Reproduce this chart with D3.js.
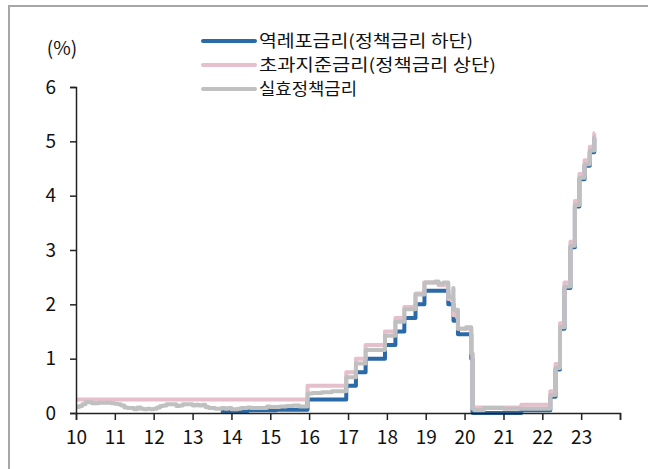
<!DOCTYPE html>
<html><head><meta charset="utf-8">
<script src="https://cdn.jsdelivr.net/npm/d3@7"></script>
<style>
html,body{margin:0;padding:0;background:#fff;}
svg{display:block;font-family:"Noto Sans CJK KR","Noto Sans",sans-serif;}
</style></head>
<body><svg id="c" width="648" height="469"></svg>
<script>
// ---- data ----
const seriesNames = ["역레포금리(정책금리 하단)", "초과지준금리(정책금리 상단)", "실효정책금리"];
const yTicks = [0, 1, 2, 3, 4, 5, 6];
const xTickYears = [2010,2011,2012,2013,2014,2015,2016,2017,2018,2019,2020,2021,2022,2023];
const xTickLabels = ["10","11","12","13","14","15","16","17","18","19","20","21","22","23"];

// 역레포금리 (lower bound)
const rrpDates = ["2013-09-23","2014-01-30","2014-06-01","2015-03-01","2015-12-17","2016-12-15","2017-03-16","2017-06-15","2017-12-14","2018-03-22","2018-06-14","2018-09-27","2018-12-20","2019-08-01","2019-09-19","2019-10-31","2020-03-04","2020-03-16","2021-06-17","2022-03-17","2022-05-05","2022-06-16","2022-07-28","2022-09-22","2022-11-03","2022-12-15","2023-02-02","2023-03-23","2023-05-04","2023-05-10"];
const rrpValues = [0.02,0.03,0.05,0.06,0.25,0.50,0.75,1.00,1.25,1.50,1.75,2.00,2.25,2.00,1.70,1.45,1.00,0.00,0.05,0.30,0.80,1.55,2.30,3.05,3.80,4.30,4.55,4.80,5.05,5.05];

// 초과지준금리 (upper bound)
const ioerDates = ["2010-01-01","2015-12-17","2016-12-15","2017-03-16","2017-06-15","2017-12-14","2018-03-22","2018-06-14","2018-09-27","2018-12-20","2019-05-02","2019-08-01","2019-09-19","2019-10-31","2020-03-04","2020-03-16","2021-06-17","2022-03-17","2022-05-05","2022-06-16","2022-07-28","2022-09-22","2022-11-03","2022-12-15","2023-02-02","2023-03-23","2023-05-04","2023-05-10"];
const ioerValues = [0.25,0.50,0.75,1.00,1.25,1.50,1.75,1.95,2.20,2.40,2.35,2.10,1.80,1.55,1.10,0.10,0.15,0.40,0.90,1.65,2.40,3.15,3.90,4.40,4.65,4.90,5.15,5.15];

// 실효정책금리 (effective rate)
const effrDates = [
"2010-01-01","2010-02-01","2010-03-01","2010-04-01","2010-05-01","2010-06-01","2010-07-01","2010-08-01","2010-09-01","2010-10-01","2010-11-01","2010-12-01",
"2011-01-01","2011-02-01","2011-03-01","2011-04-01","2011-05-01","2011-06-01","2011-07-01","2011-08-01","2011-09-01","2011-10-01","2011-11-01","2011-12-01",
"2012-01-01","2012-02-01","2012-03-01","2012-04-01","2012-05-01","2012-06-01","2012-07-01","2012-08-01","2012-09-01","2012-10-01","2012-11-01","2012-12-01",
"2013-01-01","2013-02-01","2013-03-01","2013-04-01","2013-05-01","2013-06-01","2013-07-01","2013-08-01","2013-09-01","2013-10-01","2013-11-01","2013-12-01",
"2014-01-01","2014-02-01","2014-03-01","2014-04-01","2014-05-01","2014-06-01","2014-07-01","2014-08-01","2014-09-01","2014-10-01","2014-11-01","2014-12-01",
"2015-01-01","2015-02-01","2015-03-01","2015-04-01","2015-05-01","2015-06-01","2015-07-01","2015-08-01","2015-09-01","2015-10-01","2015-11-01","2015-12-17",
"2016-02-01","2016-05-01","2016-08-01","2016-12-15","2017-03-16","2017-06-15","2017-12-14","2018-03-22","2018-06-14","2018-09-27","2018-12-20",
"2019-02-01","2019-04-01","2019-05-02","2019-06-15","2019-08-01","2019-09-17","2019-09-19","2019-10-31","2020-01-15","2020-03-04","2020-03-16","2020-04-01",
"2020-07-01","2021-01-01","2021-06-17","2021-10-01","2022-03-17","2022-05-05","2022-06-16","2022-07-28","2022-09-22","2022-11-03","2022-12-15","2023-02-02","2023-03-23","2023-05-04","2023-05-10"];
const effrValues = [
0.11,0.13,0.16,0.20,0.20,0.18,0.18,0.19,0.19,0.19,0.19,0.18,
0.17,0.16,0.14,0.10,0.09,0.09,0.07,0.10,0.08,0.07,0.08,0.07,
0.08,0.10,0.13,0.14,0.16,0.16,0.16,0.13,0.14,0.16,0.16,0.16,
0.14,0.15,0.14,0.15,0.11,0.09,0.09,0.08,0.08,0.09,0.08,0.09,
0.07,0.07,0.08,0.09,0.09,0.10,0.09,0.09,0.09,0.09,0.09,0.12,
0.11,0.11,0.11,0.12,0.12,0.13,0.13,0.14,0.14,0.12,0.12,0.36,
0.37,0.38,0.40,0.66,0.91,1.16,1.42,1.68,1.91,2.18,2.40,
2.40,2.42,2.38,2.40,2.13,2.30,1.90,1.55,1.58,1.09,0.08,0.05,
0.09,0.08,0.08,0.08,0.33,0.83,1.58,2.33,3.08,3.83,4.33,4.58,4.83,5.08,5.08];

const colors = ["#2b6aa8", "#e6bfcd", "#c0c0c0"];

// ---- chart ----
const svg = d3.select("#c");
const parse = d3.timeParse("%Y-%m-%d");
const FS = 19;

svg.append("path").attr("d", `M9,469 V6 H648`).attr("fill","none").attr("stroke","#a6a6a6").attr("stroke-width",2);

const x = d3.scaleTime().domain([new Date(2010,0,1), new Date(2024,0,1)]).range([76, 620]);
const y = d3.scaleLinear().domain([0, 6]).range([413, 87]);

const mk = (dates, vals) => dates.map((d,i)=>({d: parse(d), v: vals[i]}));
const data = [mk(rrpDates, rrpValues), mk(ioerDates, ioerValues), mk(effrDates, effrValues)];

const line = d3.line().x(p=>x(p.d)).y(p=>y(p.v)).curve(d3.curveStepAfter);
data.forEach((s,i)=>{
  svg.append("path").datum(s).attr("d", line).attr("fill","none")
    .attr("stroke", colors[i]).attr("stroke-width", 4).attr("stroke-linejoin","round");
});

// axes
const xAxis = d3.axisBottom(x).tickValues(xTickYears.concat([2024]).map(yy=>new Date(yy,0,1)))
  .tickSize(7).tickPadding(11).tickFormat((d,i)=> i < xTickLabels.length ? xTickLabels[i] : "");
const gx = svg.append("g").attr("transform","translate(0,413)").call(xAxis);
const yAxis = d3.axisLeft(y).tickValues(yTicks).tickSize(6).tickPadding(14).tickFormat(d3.format("d"));
const gy = svg.append("g").attr("transform","translate(76,0)").call(yAxis);
[gx, gy].forEach(g=>{
  g.select(".domain").attr("stroke","#222").attr("stroke-width",1.5);
  g.selectAll(".tick line").attr("stroke","#222").attr("stroke-width",1.5);
  g.selectAll("text").attr("font-size",FS).attr("fill","#111")
   .attr("font-family","'Noto Sans CJK KR','Noto Sans',sans-serif");
});

svg.append("text").attr("x",62).attr("y",48).attr("dy","0.35em").attr("text-anchor","middle")
  .attr("font-size",FS).attr("fill","#111").text("(%)");

// legend
const legY = [41, 65, 89];
const legW = [214, 237, 98];
seriesNames.forEach((n,i)=>{
  svg.append("line").attr("x1",203).attr("x2",255).attr("y1",legY[i]).attr("y2",legY[i])
    .attr("stroke",colors[i]).attr("stroke-width",4).attr("stroke-linecap","round");
  svg.append("text").attr("x",259).attr("y",legY[i]).attr("dy","0.35em")
    .attr("font-size",16.5).attr("fill","#111")
    .attr("textLength",legW[i]).attr("lengthAdjust","spacingAndGlyphs").text(n);
});
</script></body></html>
